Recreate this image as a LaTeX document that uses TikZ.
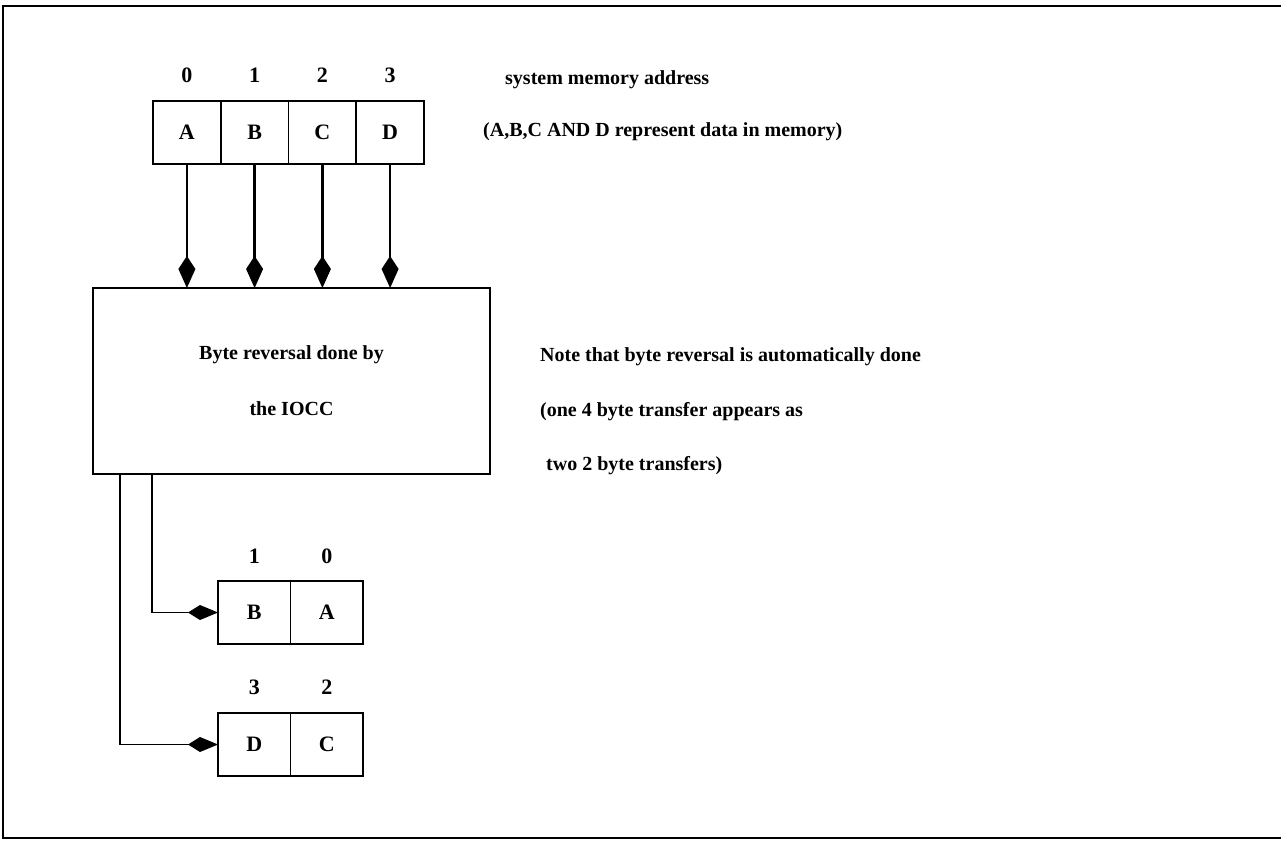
\documentclass[tikz,border=0pt]{standalone}
\usepackage{fontspec}
\setmainfont{Liberation Serif}
\usetikzlibrary{arrows.meta}
\begin{document}
\begin{tikzpicture}[x=1pt,y=-1pt,
  font=\fontsize{20}{23}\selectfont\bfseries,
  cell/.style={draw,line width=1.8pt,minimum width=67.75pt,minimum height=63pt,inner sep=0pt,outer sep=0pt,
               font=\fontsize{22}{24}\selectfont\bfseries},
  pair/.style={draw,line width=1.8pt,minimum width=72.5pt,minimum height=63pt,inner sep=0pt,outer sep=0pt,
               font=\fontsize{22}{24}\selectfont\bfseries},
  addr/.style={inner sep=0pt,font=\fontsize{22}{24}\selectfont\bfseries},
  note/.style={anchor=west,inner sep=0pt},
  flow/.style={line width=2.6pt,-{Kite[length=32pt,width=17pt,inset=13pt]}},
  link/.style={line width=1.6pt,-{Kite[length=30pt,width=15pt,inset=12pt]}}]
\useasboundingbox (0,0) rectangle (1281,840);
% outer frame (open on the right)
\draw[line width=2.2pt] (1281,6) -- (3,6) -- (3,838) -- (1281,838);

% memory cells in system order
\node[cell] (mA) at (186.9,132.5) {A};
\node[cell] (mB) at (254.6,132.5) {B};
\node[cell] (mC) at (322.4,132.5) {C};
\node[cell] (mD) at (390.1,132.5) {D};
\foreach \c/\n in {mA/0,mB/1,mC/2,mD/3}
  \node[addr] (l\c) at ([yshift=57pt]\c.center) {\n};

% byte reversal unit
\node[draw,line width=1.8pt,minimum width=397pt,minimum height=186pt,inner sep=0pt,outer sep=0pt,
      align=center,font=\fontsize{20}{56}\selectfont\bfseries] (iocc) at (291.5,381)
  {Byte reversal done by\\the IOCC};

\foreach \c in {mA,mB,mC,mD}
  \draw[flow] (\c.south) -- (\c.south |- iocc.north);

% reversed halfwords
\node[pair] (rB) at (254.25,612.5) {B};
\node[pair] (rA) at (326.75,612.5) {A};
\node[pair] (rD) at (254.25,744.5) {D};
\node[pair] (rC) at (326.75,744.5) {C};
\node[addr] (lrB) at ([yshift=56pt]rB.center) {1};
\node[addr] (lrA) at ([yshift=56pt]rA.center) {0};
\node[addr] (lrD) at ([yshift=57pt]rD.center) {3};
\node[addr] (lrC) at ([yshift=57pt]rC.center) {2};

\coordinate (o1) at (152,474);
\coordinate (o2) at (120,474);
\draw[link] (o1) |- (rB.west);
\draw[link] (o2) |- (rD.west);

% notes
\node[note] (t1) at (505,80) {system memory address};
\node[note] (t2) at (483,132) {(A,B,C AND D represent data in memory)};
\node[note] (t3) at (540,357) {Note that byte reversal is automatically done};
\node[note] (t4) at (540,412) {(one 4 byte transfer appears as};
\node[note] (t5) at (546,466) {two 2 byte transfers)};
\end{tikzpicture}
\end{document}
